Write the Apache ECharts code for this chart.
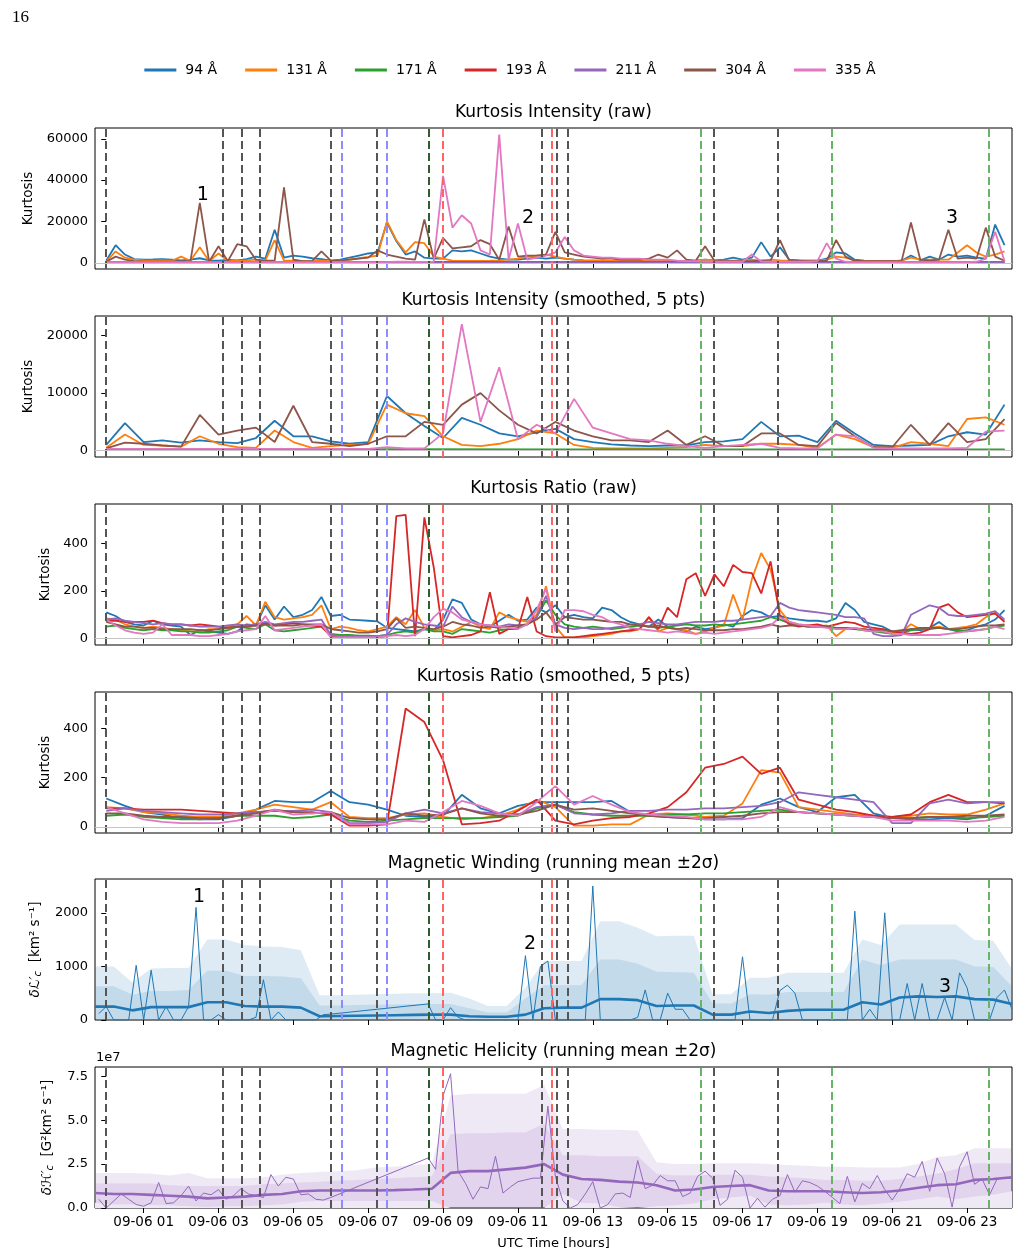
<!DOCTYPE html>
<html>
<head>
<meta charset="utf-8">
<script src="https://cdn.jsdelivr.net/npm/echarts@6/dist/echarts.min.js"></script>
<style>
  html, body { margin: 0; padding: 0; background: #fff; }
  #chart { width: 1020px; height: 1258px; }
</style>
</head>
<body>
<div id="chart"></div>
<script>
// time grids, hours since 09-06 00:00 UTC
function grid (start, step, n) {
  const a = []
  for (let i = 0; i < n; i++) a.push(+(start + step * i).toFixed(2))
  return a
}
const tK = grid(0, 0.25, 97)      // raw kurtosis cadence
const tK2 = grid(0, 0.5, 49)      // smoothed kurtosis
const tFlat = [0, 4, 8, 12, 16, 20, 24]
const tRaw = grid(-0.2, 0.2, 123) // magnetic raw
const tBand = grid(-0.3, 0.5, 50) // running mean / bands

const names = ['94 Å', '131 Å', '171 Å', '193 Å', '211 Å', '304 Å', '335 Å']
const colors = ['#1f77b4', '#ff7f0e', '#2ca02c', '#d62728', '#9467bd', '#8c564b', '#e377c2']
const tickHours = [1, 3, 5, 7, 9, 11, 13, 15, 17, 19, 21, 23]

// event markers (hours)
const blackLines = [0.0, 3.12, 3.62, 4.11, 6.01, 7.23, 11.63, 12.03, 12.33, 16.23, 17.94]
const blueLines = [6.30, 7.50]
const darkGreenLines = [8.61]
const redLines = [8.98, 11.90]
const greenLines = [15.88, 19.39, 23.59]

// ---- Kurtosis Intensity (raw), one row per three hours
const kiRaw94 = [
  1000, 8500, 4000, 1800, 1500, 1600, 1800, 1500, 1200, 1500, 2200, 1200,
  1000, 1400, 1200, 1800, 3000, 2000, 16000, 2500, 3500, 3000, 2200, 1800,
  1000, 1500, 2500, 3500, 4500, 5000, 19500, 10500, 4000, 5500, 2500, 2000,
  2000, 6000, 5500, 6000, 4500, 3000, 2000, 1500, 1500, 2000, 2500, 2000,
  2500, 2000, 1500, 1200, 1000, 1000, 800, 800, 800, 700, 700, 800,
  800, 900, 800, 1000, 1500, 1200, 1500, 2500, 1500, 2500, 10000, 3000,
  7500, 1500, 1200, 1000, 1000, 2000, 5000, 4500, 1500, 1000, 800, 800,
  800, 1000, 3500, 1200, 3000, 1500, 4000, 3000, 3500, 2500, 2000, 18500,
  8500]
const kiRaw131 = [
  500, 5500, 2500, 1500, 1200, 1000, 1200, 1000, 3000, 1000, 7500, 800,
  4500, 800, 1000, 1200, 1500, 1000, 11000, 1000, 1000, 800, 800, 1000,
  800, 1200, 1600, 2200, 2800, 3500, 20000, 11000, 5000, 10000, 9500, 3000,
  2000, 1000, 900, 900, 900, 1000, 1200, 1500, 2000, 3000, 3500, 4000,
  3000, 2000, 1500, 1200, 1000, 1000, 900, 900, 900, 900, 1000, 1000,
  900, 900, 900, 1000, 1500, 1200, 1000, 1000, 1200, 1500, 1000, 1500,
  1200, 1000, 1000, 1000, 1000, 1500, 3000, 2500, 1000, 900, 800, 800,
  800, 1000, 2500, 1500, 1500, 1500, 1500, 5000, 8500, 5000, 3000, 4000,
  5500]
const kiRaw304 = [
  500, 3000, 1500, 800, 600, 500, 500, 600, 800, 700, 29000, 500,
  8000, 800, 9000, 8000, 1500, 1000, 1000, 36500, 1500, 800, 800, 5500,
  1000, 1200, 1500, 2000, 2500, 6000, 4000, 3000, 2000, 1500, 21000, 2000,
  12000, 7000, 7500, 8000, 11000, 9000, 1500, 17500, 3000, 3500, 3500, 4000,
  15000, 5000, 4000, 3000, 2500, 2000, 2000, 1500, 1500, 1500, 2000, 4000,
  2500, 6000, 1500, 1000, 8000, 1000, 800, 800, 800, 800, 1000, 1000,
  11000, 1000, 1000, 800, 800, 1000, 11000, 3000, 1000, 800, 800, 800,
  800, 800, 19500, 1500, 1000, 1500, 16000, 2000, 2500, 2000, 17000, 3000,
  1000]
const kiRaw335 = [
  300, 300, 300, 300, 300, 300, 300, 300, 300, 300, 300, 300,
  300, 300, 300, 300, 300, 300, 300, 300, 300, 300, 300, 300,
  300, 300, 300, 300, 300, 300, 300, 500, 500, 400, 400, 500,
  42000, 17000, 23000, 19000, 6000, 4000, 62000, 1500, 19000, 1500, 2500, 3500,
  5000, 12500, 6000, 3500, 3000, 2500, 2500, 2000, 2000, 2000, 1500, 1500,
  1500, 1000, 800, 800, 600, 500, 500, 500, 500, 4000, 600, 500,
  500, 500, 500, 500, 800, 9500, 2000, 500, 300, 300, 300, 300,
  300, 300, 300, 300, 300, 300, 300, 300, 300, 500, 2000, 15000,
  800]
const kiRaw171 = [300, 300, 400, 300, 300, 300, 300]
const kiRaw193 = [200, 200, 200, 200, 200, 200, 200]
const kiRaw211 = [100, 100, 100, 100, 100, 100, 100]

// ---- Kurtosis Intensity (smoothed), one row per six hours
const kiSm94 = [
  1000, 4800, 1500, 1800, 1400, 1800, 1500, 1300, 2200, 5200, 2500, 2500,
  1600, 1200, 1500, 9500, 6500, 4300, 2200, 5700, 4500, 3000, 2500, 3200,
  3800, 2000, 1500, 1100, 900, 800, 900, 900, 1500, 1600, 2000, 5000,
  2500, 2600, 1500, 5200, 3000, 1000, 800, 900, 1000, 2500, 3200, 2800,
  8000]
const kiSm131 = [
  500, 2800, 1000, 900, 700, 2500, 1200, 600, 500, 3500, 1500, 500,
  800, 1000, 1200, 8000, 6500, 6000, 2500, 1000, 800, 1200, 2000, 3500,
  3000, 1000, 500, 400, 400, 400, 500, 600, 1000, 800, 800, 1200,
  1200, 1000, 500, 2800, 2000, 600, 500, 1500, 1200, 800, 5500, 5800,
  4500]
const kiSm304 = [
  400, 1400, 1200, 900, 700, 6200, 2800, 3500, 4000, 1500, 7800, 1500,
  1200, 800, 1200, 2500, 2500, 5000, 4500, 8000, 10000, 7000, 4500, 3000,
  5000, 3500, 2500, 1800, 1800, 1500, 3500, 1000, 2500, 800, 800, 3000,
  3000, 1000, 800, 4800, 2500, 600, 600, 4500, 1000, 4800, 1500, 2000,
  5500]
const kiSm335 = [
  300, 300, 300, 300, 300, 300, 300, 300, 300, 300, 300, 300,
  300, 300, 300, 600, 400, 400, 3000, 22000, 5000, 14500, 2000, 4500,
  3000, 9000, 4000, 3000, 2000, 1800, 1200, 800, 500, 800, 1000, 1200,
  500, 400, 400, 2800, 2500, 500, 400, 400, 400, 400, 500, 3300,
  3500]
const kiSm171 = [200, 200, 250, 200, 200, 200, 200]
const kiSm193 = [150, 150, 150, 150, 150, 150, 150]
const kiSm211 = [80, 80, 80, 80, 80, 80, 80]

// ---- Kurtosis Ratio (raw), one row per four hours
const krRaw94 = [
  110, 95, 70, 60, 55, 75, 60, 55, 50, 15, 35, 30, 25, 20, 30, 60,
  55, 140, 80, 135, 90, 100, 120, 175, 95, 100, 80, 78, 75, 72, 45, 40,
  35, 30, 40, 35, 80, 165, 150, 80, 60, 50, 75, 100, 75, 80, 130, 110,
  140, 90, 100, 90, 85, 130, 120, 90, 70, 60, 50, 80, 50, 40, 30, 50,
  40, 45, 60, 50, 95, 120, 110, 90, 95, 85, 80, 75, 75, 70, 85, 150,
  120, 70, 60, 50, 30, 25, 40, 35, 45, 70, 40, 30, 35, 50, 60, 80,
  120]
const krRaw131 = [
  85, 80, 60, 50, 45, 50, 45, 40, 35, 30, 30, 40, 40, 50, 60, 95,
  55, 155, 90, 80, 85, 90, 100, 140, 40, 50, 45, 35, 30, 40, 50, 90,
  60, 120, 45, 35, 40, 30, 50, 70, 50, 40, 110, 90, 80, 70, 100, 220,
  50, 5, 5, 5, 10, 15, 20, 30, 30, 40, 90, 30, 45, 40, 35, 20,
  30, 45, 55, 185, 80, 250, 360, 290, 120, 70, 60, 55, 50, 55, 10, 40,
  45, 40, 30, 40, 25, 30, 60, 40, 45, 50, 40, 45, 50, 60, 90, 110,
  70]
const krRaw171 = [
  50, 55, 45, 40, 35, 40, 35, 35, 30, 30, 25, 25, 30, 35, 50, 45,
  40, 60, 35, 30, 35, 40, 45, 50, 20, 15, 15, 12, 12, 10, 15, 25,
  30, 25, 40, 30, 30, 20, 40, 35, 30, 25, 35, 40, 45, 60, 90, 160,
  100, 60, 50, 45, 50, 45, 40, 45, 50, 55, 50, 45, 50, 55, 60, 55,
  55, 60, 55, 60, 65, 70, 75, 90, 80, 65, 55, 50, 50, 50, 45, 45,
  40, 35, 30, 25, 20, 25, 35, 40, 40, 45, 40, 35, 30, 35, 40, 50,
  55]
const krRaw193 = [
  75, 75, 70, 70, 70, 75, 65, 60, 60, 55, 60, 55, 50, 45, 50, 55,
  60, 65, 55, 60, 65, 60, 55, 50, 10, 5, 5, 5, 5, 5, 10, 515,
  520, 10, 510, 300, 10, 5, 10, 15, 30, 195, 20, 40, 40, 175, 30, 10,
  5, 5, 5, 10, 15, 20, 25, 30, 35, 40, 90, 40, 130, 90, 250, 275,
  180, 270, 220, 310, 280, 275, 190, 325, 95, 60, 50, 55, 60, 50, 60, 70,
  65, 50, 45, 40, 30, 25, 20, 25, 40, 130, 145, 110, 90, 95, 100, 105,
  70]
const krRaw211 = [
  80, 85, 75, 70, 65, 60, 65, 60, 60, 55, 50, 50, 50, 55, 60, 55,
  60, 70, 60, 65, 70, 70, 75, 80, 15, 10, 8, 8, 8, 10, 15, 60,
  85, 70, 60, 55, 50, 135, 90, 70, 60, 55, 50, 60, 55, 60, 90, 180,
  60, 45, 40, 45, 40, 40, 45, 50, 60, 60, 70, 65, 60, 60, 65, 70,
  70, 70, 75, 75, 80, 85, 90, 95, 150, 130, 120, 115, 110, 105, 100, 90,
  90, 85, 20, 10, 10, 15, 100, 120, 140, 130, 100, 95, 95, 100, 105, 115,
  80]
const krRaw304 = [
  70, 60, 50, 50, 45, 45, 40, 40, 40, 40, 35, 35, 40, 45, 50, 50,
  55, 60, 55, 55, 55, 60, 60, 60, 40, 35, 30, 25, 25, 30, 40, 85,
  45, 50, 45, 40, 50, 70, 60, 55, 45, 50, 45, 50, 55, 60, 80, 110,
  60, 90, 85, 80, 80, 75, 70, 70, 60, 55, 50, 55, 45, 40, 45, 40,
  35, 35, 35, 40, 40, 45, 50, 60, 50, 55, 55, 50, 50, 50, 45, 45,
  40, 40, 35, 35, 30, 35, 40, 45, 45, 45, 40, 40, 45, 50, 55, 55,
  60]
const krRaw335 = [
  80, 55, 35, 25, 20, 25, 60, 15, 15, 15, 10, 10, 15, 20, 30, 35,
  40, 95, 35, 40, 45, 50, 55, 60, 5, 5, 5, 5, 5, 5, 10, 15,
  10, 15, 40, 90, 125, 110, 80, 70, 60, 55, 50, 45, 40, 60, 120, 210,
  30, 120, 120, 115, 100, 90, 70, 60, 45, 40, 35, 30, 25, 30, 25, 20,
  25, 20, 25, 30, 35, 40, 45, 55, 90, 70, 60, 55, 50, 45, 40, 40,
  45, 35, 30, 30, 20, 20, 15, 15, 15, 15, 20, 25, 30, 35, 40, 50,
  40]

// ---- Kurtosis Ratio (smoothed), one row per eight hours
const krSm94 = [
  115, 85, 60, 50, 35, 30, 30, 45, 70, 105, 100, 100, 145, 100, 90, 70,
  45, 40, 45, 130, 75, 55, 85, 100, 100, 100, 100, 105, 60, 45, 40, 35,
  30, 30, 35, 90, 115, 80, 60, 120, 130, 55, 35, 30, 30, 35, 30, 45,
  85]
const krSm131 = [
  80, 75, 60, 55, 45, 40, 40, 55, 70, 90, 80, 70, 100, 40, 35, 35,
  50, 55, 40, 30, 35, 45, 70, 110, 80, 5, 5, 10, 10, 50, 55, 50,
  40, 45, 95, 230, 220, 80, 70, 60, 50, 45, 40, 45, 55, 50, 50, 70,
  95]
const krSm171 = [
  45, 50, 40, 35, 30, 30, 35, 45, 45, 45, 35, 40, 50, 25, 20, 25,
  30, 35, 35, 35, 35, 40, 45, 75, 90, 60, 50, 45, 45, 45, 50, 50,
  55, 55, 60, 65, 70, 60, 55, 50, 45, 40, 35, 35, 40, 40, 35, 40,
  45]
const krSm193 = [
  75, 75, 70, 70, 70, 65, 60, 55, 60, 65, 60, 60, 50, 5, 5, 10,
  480, 425, 270, 10, 15, 25, 65, 110, 25, 10, 25, 35, 40, 55, 80, 140,
  240, 255, 285, 215, 240, 110, 90, 70, 60, 45, 40, 50, 100, 130, 100, 100,
  95]
const krSm211 = [
  65, 75, 65, 60, 55, 50, 50, 55, 60, 65, 65, 70, 60, 15, 15, 20,
  55, 70, 55, 75, 60, 55, 50, 80, 90, 55, 50, 55, 65, 65, 70, 70,
  75, 75, 80, 85, 100, 140, 130, 120, 110, 100, 15, 15, 95, 110, 95, 100,
  100]
const krSm304 = [
  55, 55, 45, 40, 40, 35, 35, 45, 55, 70, 60, 55, 60, 35, 30, 30,
  55, 45, 50, 75, 55, 45, 50, 65, 90, 70, 75, 65, 55, 45, 40, 35,
  35, 40, 45, 55, 60, 60, 55, 50, 45, 40, 35, 35, 40, 40, 45, 45,
  50]
const krSm335 = [
  80, 55, 30, 20, 15, 15, 15, 25, 45, 70, 50, 55, 60, 10, 10, 10,
  25, 20, 60, 105, 85, 55, 45, 100, 165, 90, 125, 90, 60, 50, 45, 40,
  30, 30, 30, 40, 80, 60, 55, 50, 45, 40, 25, 25, 25, 25, 20, 25,
  40]

// ---- Magnetic winding [km^2 s^-1], raw every 12 min (rows: three hours)
const windRaw = [
  120, 250, 0, 0, 0, 1020, 0, 930, 0, 250, 0, 0, 250, 2100, 0,
  0, 100, 0, 0, 0, 0, 50, 750, 0, 150, 0, 0, 0, 0, 0,
  100, 110, null, null, null, null, null, null, null, null, null, null, null, null, 300,
  0, 0, 230, 50, 0, 0, 0, 0, 0, 0, 0, 0, 1200, 0, 1000,
  1100, 0, 0, 0, 0, 0, 2500, 0, 0, 0, 0, 0, 50, 560, 0,
  0, 500, 200, 200, 0, 0, 0, 0, 0, 0, 0, 1180, 0, 0, 0,
  0, 550, 650, 500, 0, 0, 0, 0, 0, 0, 0, 2030, 0, 200, 0,
  2000, 0, 0, 680, 0, 680, 0, 0, 420, 0, 880, 600, 0, 0, 0,
  420, 560, 200]
const windMean = [
  250, 250, 180, 240, 240, 240, 330, 330, 260, 250,
  250, 230, 70, 75, 80, 85, 90, 95, 100, 100,
  70, 60, 60, 100, 220, 230, 230, 390, 390, 370,
  260, 270, 270, 100, 100, 160, 130, 170, 190, 190,
  190, 330, 290, 420, 440, 430, 440, 390, 380, 300]
const windSig1 = [
  630, 630, 470, 540, 540, 560, 920, 920, 820, 820,
  810, 780, 270, 270, 280, 285, 290, 300, 300, 300,
  220, 140, 140, 400, 650, 650, 650, 1130, 1130, 1050,
  900, 890, 880, 310, 310, 480, 470, 520, 520, 520,
  520, 1130, 1020, 1130, 1130, 1130, 1130, 1000, 990, 630]
const windSig2 = [
  1000, 1000, 700, 960, 970, 970, 1500, 1500, 1400, 1370,
  1360, 1300, 460, 460, 470, 480, 490, 500, 500, 510,
  400, 260, 260, 600, 1100, 1100, 1100, 1840, 1840, 1720,
  1560, 1570, 1570, 480, 480, 790, 790, 880, 880, 880,
  880, 1500, 1400, 1780, 1780, 1780, 1780, 1490, 1480, 950]

// ---- Magnetic helicity [1e7 G^2 km^2 s^-1]
const heliRaw = [
  0.5, 0.0, 0.4, 0.8, 0.5, 0.2, 0.1, 0.3, 1.45, 0.25, 0.3, 0.7, 1.25, 0.4, 0.85,
  0.75, 1.05, 0.5, 0.7, 1.1, 0.8, 0.7, 0.6, 1.9, 1.25, 1.75, 1.65, 0.75, 0.8, 0.5,
  0.45, 0.6, null, null, null, null, null, null, null, null, null, null, null, null, 2.85,
  2.2, 6.4, 7.65, 2.1, 1.4, 0.5, 1.2, 1.1, 2.95, 0.85, 1.2, 1.5, 1.6, 1.7, 1.7,
  5.8, 1.8, 0.4, 0.0, 0.2, 0.8, 1.5, 0.0, 0.2, 0.8, 0.85, 0.6, 2.7, 1.1, 1.3,
  1.85, 1.55, 1.55, 0.65, 0.85, 1.8, 2.1, 1.7, 0.15, 0.5, 2.15, 1.75, 0.0, 0.55, 0.05,
  0.5, 0.7, 1.9, 0.9, 1.55, 1.45, 1.25, 0.95, 0.6, 0.25, 1.8, 0.35, 1.4, 1.1, 1.85,
  1.05, 0.45, 1.1, 1.95, 1.75, 2.65, 0.95, 2.85, 1.95, 0.05, 2.35, 3.2, 1.35, 1.65, 0.75,
  1.65, 1.7, 1.7]
const heliMean = [
  0.85, 0.8, 0.8, 0.75, 0.7, 0.65, 0.55, 0.6, 0.65, 0.75,
  0.8, 0.95, 1.0, 1.0, 1.0, 1.0, 1.02, 1.05, 1.1, 2.0,
  2.1, 2.1, 2.2, 2.3, 2.5, 1.9, 1.65, 1.6, 1.5, 1.45,
  1.3, 1.0, 1.05, 1.2, 1.25, 1.3, 1.0, 0.95, 0.95, 0.95,
  0.9, 0.85, 0.9, 1.0, 1.15, 1.3, 1.35, 1.6, 1.65, 1.75]
const heliSig1Hi = [
  1.4, 1.4, 1.4, 1.4, 1.3, 1.25, 1.25, 1.25, 1.25, 1.35,
  1.4, 1.45, 1.5, 1.55, 1.6, 1.65, 1.7, 1.75, 1.8, 4.2,
  4.25, 4.25, 4.3, 4.3, 4.8, 3.0, 3.0, 2.95, 2.95, 2.95,
  1.95, 1.85, 1.85, 1.9, 1.9, 1.9, 1.8, 1.75, 1.7, 1.6,
  1.6, 1.55, 1.55, 1.65, 1.8, 1.95, 2.2, 2.55, 2.55, 2.55]
const heliSig1Lo = [
  0.3, 0.2, 0.2, 0.15, 0.15, 0.1, 0.05, 0.1, 0.1, 0.15,
  0.2, 0.35, 0.4, 0.4, 0.4, 0.4, 0.4, 0.4, 0.4, 0,
  0, 0, 0, 0, 0, 0.8, 0.3, 0.25, 0.05, 0,
  0.1, 0.15, 0.25, 0.5, 0.6, 0.7, 0.2, 0.15, 0.2, 0.3,
  0.2, 0.15, 0.25, 0.35, 0.5, 0.65, 0.5, 0.65, 0.75, 0.95]
const heliSig2 = [
  2.0, 2.0, 2.0, 1.95, 1.85, 2.0, 1.7, 1.7, 1.7, 1.75,
  1.9, 2.0, 2.05, 2.1, 2.15, 2.3, 2.35, 2.45, 2.5, 6.4,
  6.5, 6.5, 6.5, 6.5, 7.0, 4.5, 4.5, 4.45, 4.45, 4.4,
  2.6, 2.5, 2.5, 2.55, 2.55, 2.55, 2.5, 2.45, 2.4, 2.35,
  2.35, 2.3, 2.3, 2.3, 2.5, 2.9, 3.0, 3.4, 3.4, 3.4]

// numbered events, placed in data coordinates
const eventsKurt = [{ n: '1', h: 2.58, v: 32900 }, { n: '2', h: 11.27, v: 21800 }, { n: '3', h: 22.6, v: 21800 }]
const eventsWind = [{ n: '1', h: 2.48, v: 2300 }, { n: '2', h: 11.32, v: 1410 }, { n: '3', h: 22.41, v: 606 }]

// panel layout
const tops = [128, 316, 504, 692, 879, 1067]
const titles = ['Kurtosis Intensity (raw)', 'Kurtosis Intensity (smoothed, 5 pts)', 'Kurtosis Ratio (raw)',
  'Kurtosis Ratio (smoothed, 5 pts)', 'Magnetic Winding (running mean ±2σ)', 'Magnetic Helicity (running mean ±2σ)']
const yMin = [-3000, -1100, -27, -25, 0, 0]
const yMax = [65200, 23400, 566, 547, 2630, 8.03]
const yTicks = [[0, 20000, 40000, 60000], [0, 10000, 20000], [0, 200, 400], [0, 200, 400], [0, 1000, 2000], [0, 2.5, 5, 7.5]]
const yNames = ['Kurtosis', 'Kurtosis', 'Kurtosis', 'Kurtosis',
  '{i|δℒ′}{s|c}  [km² s⁻¹]', '{i|δℋ′}{s|c}  [G²km² s⁻¹]']
const yGaps = [60, 60, 43, 43, 52, 40]

function pairs (t, v) { return v.map((y, i) => [t[i], y]) }

function line (name, t, v, gi, color, width) {
  return {
    name, type: 'line', xAxisIndex: gi, yAxisIndex: gi, data: pairs(t, v),
    showSymbol: false, symbol: 'none', connectNulls: true, silent: true,
    lineStyle: { color, width }, itemStyle: { color }
  }
}

// area from the axis floor up to v
function band (name, t, v, gi, color) {
  return {
    name, type: 'line', xAxisIndex: gi, yAxisIndex: gi, data: pairs(t, v),
    showSymbol: false, symbol: 'none', silent: true,
    lineStyle: { width: 0, opacity: 0 }, areaStyle: { color, opacity: 1 }
  }
}

function markers (gi, zeroLine, events) {
  const ml = []
  const add = (arr, color) => arr.forEach(h => ml.push({ xAxis: h, lineStyle: { color, type: [8, 4], width: 2 } }))
  add(blackLines, '#555555')
  add(blueLines, '#8c8cff')
  add(darkGreenLines, '#2e5e2e')
  add(redLines, '#ff6464')
  add(greenLines, '#66b466')
  if (zeroLine) ml.push({ yAxis: 0, lineStyle: { color: '#c4c4c4', type: 'solid', width: 1 } })
  return {
    name: 'markers' + gi, type: 'line', xAxisIndex: gi, yAxisIndex: gi, data: [], z: 5, silent: true,
    markLine: { symbol: 'none', silent: true, animation: false, label: { show: false }, data: ml },
    markPoint: events ? {
      symbol: 'circle', symbolSize: 1, itemStyle: { color: 'rgba(0,0,0,0)' }, silent: true,
      label: { show: true, position: 'inside', formatter: '{b}', fontSize: 19, color: '#000' },
      data: events.map(e => ({ name: e.n, coord: [e.h, e.v] }))
    } : undefined
  }
}

const series = []
const p0 = [[tK, kiRaw94], [tK, kiRaw131], [tFlat, kiRaw171], [tFlat, kiRaw193], [tFlat, kiRaw211], [tK, kiRaw304], [tK, kiRaw335]]
p0.forEach((d, k) => series.push(line(names[k], d[0], d[1], 0, colors[k], 1.8)))
const p1 = [[tK2, kiSm94], [tK2, kiSm131], [tFlat, kiSm171], [tFlat, kiSm193], [tFlat, kiSm211], [tK2, kiSm304], [tK2, kiSm335]]
p1.forEach((d, k) => series.push(line(names[k], d[0], d[1], 1, colors[k], 1.8)))
const p2 = [krRaw94, krRaw131, krRaw171, krRaw193, krRaw211, krRaw304, krRaw335]
p2.forEach((v, k) => series.push(line(names[k], tK, v, 2, colors[k], 1.8)))
const p3 = [krSm94, krSm131, krSm171, krSm193, krSm211, krSm304, krSm335]
p3.forEach((v, k) => series.push(line(names[k], tK2, v, 3, colors[k], 1.8)))

// panel 4: winding (lower bounds fall below zero)
series.push(band('w2', tBand, windSig2, 4, 'rgba(31,119,180,0.15)'))
series.push(band('w1', tBand, windSig1, 4, 'rgba(31,119,180,0.15)'))
series.push(line('wRaw', tRaw, windRaw, 4, '#1f77b4', 1))
series.push(line('wMean', tBand, windMean, 4, '#1f77b4', 2.6))

// panel 5: helicity; the 1-sigma floor is cut out, then the 2-sigma tint put back
series.push(band('h2', tBand, heliSig2, 5, 'rgba(148,103,189,0.15)'))
series.push(band('h1', tBand, heliSig1Hi, 5, 'rgba(148,103,189,0.15)'))
series.push(band('h1cut', tBand, heliSig1Lo, 5, '#ffffff'))
series.push(band('h1floor', tBand, heliSig1Lo, 5, 'rgba(148,103,189,0.15)'))
series.push(line('hRaw', tRaw, heliRaw, 5, '#9467bd', 1))
series.push(line('hMean', tBand, heliMean, 5, '#9467bd', 2.6))

for (let g = 0; g < 6; g++) {
  series.push(markers(g, g < 4, g === 0 ? eventsKurt : (g === 4 ? eventsWind : null)))
}

const pad = n => (n < 10 ? '0' : '') + n
const grids = tops.map(top => ({ left: 95, width: 917, top, height: 141, show: true, borderColor: '#000', borderWidth: 1 }))
const xAxes = tops.map((_, g) => ({
  type: 'value', gridIndex: g, min: -0.3, max: 24.2,
  axisLine: { show: false }, splitLine: { show: false },
  axisTick: { show: true, customValues: tickHours, length: 5, lineStyle: { color: '#000' } },
  axisLabel: g === 5
    ? { show: true, customValues: tickHours, formatter: v => '09-06 ' + pad(Math.round(v)), fontSize: 13.5, color: '#000', margin: 7 }
    : { show: false },
  name: g === 5 ? 'UTC Time [hours]' : '',
  nameLocation: 'middle', nameGap: 29, nameTextStyle: { fontSize: 13, color: '#000' }
}))
const yAxes = tops.map((_, g) => ({
  type: 'value', gridIndex: g, min: yMin[g], max: yMax[g],
  axisLine: { show: false }, splitLine: { show: false },
  axisTick: { show: true, customValues: yTicks[g], length: 5, lineStyle: { color: '#000' } },
  axisLabel: { customValues: yTicks[g], fontSize: 13, color: '#000', margin: 7, formatter: v => (g === 5 ? v.toFixed(1) : String(v)) },
  name: yNames[g], nameLocation: 'middle', nameGap: yGaps[g],
  nameTextStyle: {
    fontSize: 13.5, color: '#000',
    rich: {
      i: { fontSize: 13.5, fontStyle: 'italic', color: '#000' },
      s: { fontSize: 10, fontStyle: 'italic', color: '#000', padding: [6, 0, 0, 0] }
    }
  }
}))

const texts = titles.map((t, g) => ({
  type: 'text', x: 553.5, y: tops[g] - 15, silent: true,
  style: { text: t, fontSize: 17, fill: '#000', align: 'center', verticalAlign: 'middle', fontFamily: 'DejaVu Sans' }
}))
texts.push({ type: 'text', x: 12, y: 9, silent: true, style: { text: '16', fontSize: 17, fill: '#000', fontFamily: 'Liberation Serif' } })
texts.push({ type: 'text', x: 96, y: 1058, silent: true, style: { text: '1e7', fontSize: 13, fill: '#000', verticalAlign: 'middle', fontFamily: 'DejaVu Sans' } })

const chart = echarts.init(document.getElementById('chart'), null, { renderer: 'canvas' })
chart.setOption({
  animation: false,
  backgroundColor: '#fff',
  textStyle: { fontFamily: 'DejaVu Sans' },
  legend: {
    data: names, top: 58, left: 'center', icon: 'rect', itemWidth: 32, itemHeight: 3, itemGap: 28,
    textStyle: { fontSize: 14, color: '#000', padding: [0, 0, 0, 4] }, selectedMode: false
  },
  grid: grids,
  xAxis: xAxes,
  yAxis: yAxes,
  series,
  graphic: texts
})
</script>
</body>
</html>
